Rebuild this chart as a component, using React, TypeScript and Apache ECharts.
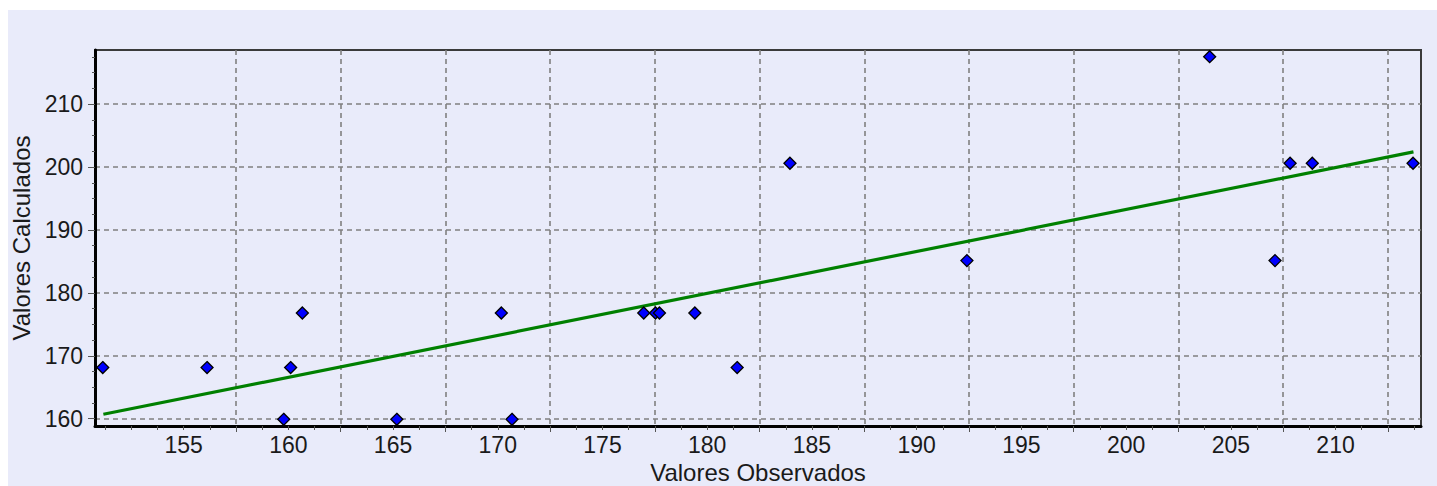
import React, { useEffect, useRef } from "react";
import * as echarts from "echarts";

const observed = [151.14, 156.12, 159.78, 160.11, 160.67, 165.18, 170.17, 170.68, 176.97, 177.53, 177.72, 179.41, 181.43, 183.95, 192.4, 203.99, 207.11, 207.83, 208.89, 213.7];
const calculated = [168.13, 168.13, 159.9, 168.13, 176.8, 159.9, 176.8, 159.9, 176.8, 176.8, 176.8, 176.8, 168.13, 200.6, 185.13, 217.54, 185.13, 200.6, 200.6, 200.6];
const fitX = [151.17, 213.72];
const fitY = [160.7, 202.4];
const xLabels = [155, 160, 165, 170, 175, 180, 185, 190, 195, 200, 205, 210];
const xGrid = [157.5, 162.5, 167.5, 172.5, 177.5, 182.5, 187.5, 192.5, 197.5, 202.5, 207.5, 212.5];
const xMinorTicks = [151.25, 152.5, 153.75, 155, 156.25, 158.75, 160, 161.25, 163.75, 165, 166.25, 168.75, 170, 171.25, 173.75, 175, 176.25, 178.75, 180, 181.25, 183.75, 185, 186.25, 188.75, 190, 191.25, 193.75, 195, 196.25, 198.75, 200, 201.25, 203.75, 205, 206.25, 208.75, 210, 211.25, 213.75];
const yLabels = [160, 170, 180, 190, 200, 210];
const yMinorTicks = [162.5, 165, 167.5, 172.5, 175, 177.5, 182.5, 185, 187.5, 192.5, 195, 197.5, 202.5, 205, 207.5, 212.5, 215, 217.5];

const X_MIN = 150.77;
const X_MAX = 214.08;
const Y_MIN = 158.84;
const Y_MAX = 218.6;

export default function App() {
  const ref = useRef<HTMLDivElement>(null);
  useEffect(() => {
    document.body.style.margin = "0";
    const chart = echarts.init(ref.current!, null, { renderer: "svg" });
    const font = "Liberation Sans";
    const txt = "#1a1a1a";
    const dash = { color: "#808080", width: 1.6, type: [5, 4] as any };
    chart.setOption({
      animation: false,
      backgroundColor: "#E9EBFA",
      grid: {
        left: 87, top: 40, right: 16, bottom: 60,
        outerBoundsMode: "none",
        containLabel: false,
        show: true, borderColor: "#3a3a3a", borderWidth: 2, backgroundColor: "#E9EBFA",
      },
      xAxis: [
        {
          type: "value", min: X_MIN, max: X_MAX, position: "bottom",
          name: "Valores Observados", nameLocation: "middle", nameGap: 34,
          nameTextStyle: { fontFamily: font, fontSize: 24, color: txt },
          axisLine: { show: true, lineStyle: { color: "#000", width: 3 } },
          axisTick: { show: true, length: 4, customValues: xMinorTicks, lineStyle: { color: "#555", width: 1 } },
          axisLabel: { customValues: xLabels, margin: 7, fontFamily: font, fontSize: 23, color: txt },
          splitLine: { show: false },
        },
        {
          type: "value", min: X_MIN, max: X_MAX, position: "bottom",
          axisLine: { show: false },
          axisTick: { show: true, length: 6, customValues: xGrid, lineStyle: { color: "#555", width: 1 } },
          axisLabel: { show: false },
          splitLine: { show: true, lineStyle: dash },
        },
      ],
      yAxis: [
        {
          type: "value", min: Y_MIN, max: Y_MAX, position: "left",
          name: "Valores Calculados", nameLocation: "middle", nameGap: 58,
          nameTextStyle: { fontFamily: font, fontSize: 24, color: txt },
          axisLine: { show: true, lineStyle: { color: "#000", width: 3 } },
          axisTick: { show: true, length: 3, customValues: yMinorTicks, lineStyle: { color: "#555", width: 1 } },
          axisLabel: { customValues: yLabels, margin: 12, fontFamily: font, fontSize: 23, color: txt },
          splitLine: { show: false },
        },
        {
          type: "value", min: Y_MIN, max: Y_MAX, position: "left",
          axisLine: { show: false },
          axisTick: { show: true, length: 7, customValues: yLabels, lineStyle: { color: "#555", width: 1 } },
          axisLabel: { show: false },
          splitLine: { show: true, lineStyle: dash },
        },
      ],
      series: [
        {
          type: "line",
          xAxisIndex: 0, yAxisIndex: 0,
          data: fitX.map((x, i) => [x, fitY[i]]),
          symbol: "none",
          lineStyle: { color: "#008000", width: 3.2 },
          z: 2,
        },
        {
          type: "scatter",
          xAxisIndex: 0, yAxisIndex: 0,
          data: observed.map((x, i) => [x, calculated[i]]),
          symbol: "diamond",
          symbolSize: 12,
          itemStyle: { color: "#0000FF", borderColor: "#000", borderWidth: 1.3, opacity: 1 },
          z: 3,
        },
      ],
    });
    return () => chart.dispose();
  }, []);
  return (
    <div
      ref={ref}
      style={{ position: "fixed", left: 8, top: 10, width: 1429, height: 476 }}
    />
  );
}
